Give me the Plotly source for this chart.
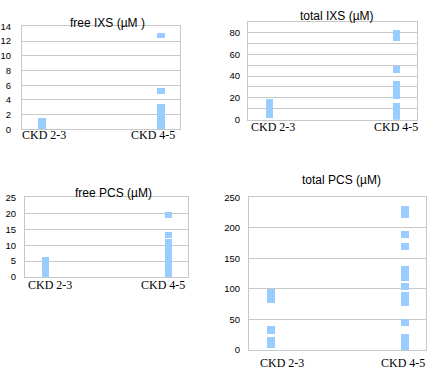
import plotly.graph_objects as go

W, H = 434, 388

CATEGORIES = ["CKD 2-3", "CKD 4-5"]

# Each panel: segments (category, low, high)
FREE_IXS_CAT = ["CKD 2-3", "CKD 4-5", "CKD 4-5", "CKD 4-5"]
FREE_IXS_LOW = [0, 0, 4.7, 12.4]
FREE_IXS_HIGH = [1.5, 3.4, 5.6, 13.1]

TOTAL_IXS_CAT = ["CKD 2-3", "CKD 4-5", "CKD 4-5", "CKD 4-5", "CKD 4-5"]
TOTAL_IXS_LOW = [2, -1, 19, 43, 73]
TOTAL_IXS_HIGH = [19, 16, 36, 50, 83]

FREE_PCS_CAT = ["CKD 2-3", "CKD 4-5", "CKD 4-5", "CKD 4-5"]
FREE_PCS_LOW = [0, 0, 12.2, 18.5]
FREE_PCS_HIGH = [6.1, 11.9, 14.0, 20.3]

TOTAL_PCS_CAT = ["CKD 2-3", "CKD 2-3", "CKD 2-3",
                 "CKD 4-5", "CKD 4-5", "CKD 4-5", "CKD 4-5",
                 "CKD 4-5", "CKD 4-5", "CKD 4-5", "CKD 4-5"]
TOTAL_PCS_LOW = [77, 26, 2, 215, 183, 163, 113, 98, 72, 38, 0]
TOTAL_PCS_HIGH = [99, 39, 20, 235, 194, 174, 137, 109, 94, 50, 26]

TITLES = ["free IXS (µM )", "total IXS (µM)", "free PCS (µM)", "total PCS (µM)"]

BAR_COLOR = "#99CCFF"
GRID = "#C8C8C8"
SERIF = "Liberation Serif, Times New Roman, serif"
SANS = "Liberation Sans, Arial, sans-serif"

def px_x(p):
    return p / W

def px_y(p):
    return 1 - p / H

panels = [
    dict(cat=FREE_IXS_CAT, low=FREE_IXS_LOW, high=FREE_IXS_HIGH,
         xd=(22, 180), yd=(21, 127), yr=(0, 14), dtick=2, minor=None,
         title_xy=(107, 17), standoff=8,
         lab_x=(43.5, 153), lab_y=133),
    dict(cat=TOTAL_IXS_CAT, low=TOTAL_IXS_LOW, high=TOTAL_IXS_HIGH,
         xd=(248, 417), yd=(16, 117), yr=(0, 90), dtick=20, minor=10,
         title_xy=(337, 10), standoff=5,
         lab_x=(272.5, 395.5), lab_y=124.5),
    dict(cat=FREE_PCS_CAT, low=FREE_PCS_LOW, high=FREE_PCS_HIGH,
         xd=(25, 188), yd=(197, 279), yr=(0, 25), dtick=5, minor=None,
         title_xy=(114, 192), standoff=6,
         lab_x=(50, 162.5), lab_y=287),
    dict(cat=TOTAL_PCS_CAT, low=TOTAL_PCS_LOW, high=TOTAL_PCS_HIGH,
         xd=(249, 426), yd=(197, 354), yr=(0, 250), dtick=50, minor=None,
         title_xy=(341, 179), standoff=6,
         lab_x=(282, 403), lab_y=367),
]

fig = go.Figure()
layout = {}
annotations = []
for i, p in enumerate(panels):
    n = "" if i == 0 else str(i + 1)
    xa, ya = "x" + n, "y" + n
    fig.add_trace(go.Bar(
        x=p["cat"],
        y=[h - l for l, h in zip(p["low"], p["high"])],
        base=p["low"],
        width=0.06,
        marker=dict(color=BAR_COLOR, line=dict(width=0)),
        xaxis=xa, yaxis=ya, showlegend=False, hoverinfo="skip",
    ))
    layout["xaxis" + n] = dict(
        domain=[px_x(p["xd"][0]), px_x(p["xd"][1])],
        anchor=ya, type="category", categoryorder="array",
        categoryarray=CATEGORIES, range=[-0.168, 1.16],
        showgrid=False, showline=True, linecolor=GRID, linewidth=1,
        mirror=True, ticks="", showticklabels=False,
        zeroline=False, fixedrange=True,
    )
    yax = dict(
        domain=[px_y(p["yd"][1]), px_y(p["yd"][0])],
        anchor=xa, range=list(p["yr"]), dtick=p["dtick"], tick0=0,
        showgrid=True, gridcolor=GRID, gridwidth=1,
        showline=True, linecolor=GRID, linewidth=1, mirror=True,
        ticks="", ticklabelstandoff=p["standoff"],
        tickfont=dict(family=SANS, size=9.5, color="#000"),
        zeroline=False, fixedrange=True,
    )
    if p["minor"]:
        yax["minor"] = dict(dtick=p["minor"], showgrid=True, gridcolor=GRID, gridwidth=1)
    layout["yaxis" + n] = yax
    tx, ty = p["title_xy"]
    annotations.append(dict(
        x=px_x(tx), y=px_y(ty), xref="paper", yref="paper",
        xanchor="center", yanchor="middle", showarrow=False,
        text=TITLES[i],
        font=dict(family=SANS, size=12, color="#000"),
    ))
    for cat, lx in zip(CATEGORIES, p["lab_x"]):
        annotations.append(dict(
            x=px_x(lx), y=px_y(p["lab_y"]), xref="paper", yref="paper",
            xanchor="center", yanchor="middle", showarrow=False,
            text=cat, font=dict(family=SERIF, size=12, color="#000"),
        ))

fig.update_layout(
    width=W, height=H,
    margin=dict(l=0, r=0, t=0, b=0),
    paper_bgcolor="white", plot_bgcolor="white",
    barmode="overlay", bargap=0,
    annotations=annotations,
    **layout,
)

fig.write_html(
    "out.html",
    config={"displayModeBar": False},
    post_script="document.body.style.margin='0';document.body.style.overflow='hidden';",
)
